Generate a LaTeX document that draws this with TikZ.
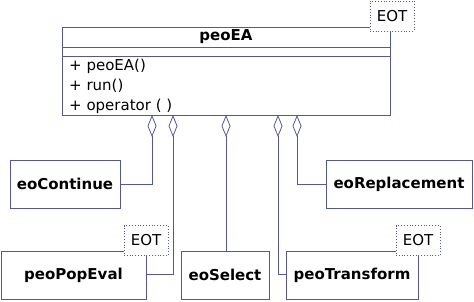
\documentclass[tikz,border=0pt]{standalone}
\usepackage{fontspec}
\setmainfont{DejaVu Sans}
\usetikzlibrary{
    arrows.meta,
    positioning
}
\definecolor{umlblue}{RGB}{85,85,160}
\tikzset{
    classbox/.style={draw=umlblue, fill=white, line width=0.8pt, inner sep=0pt},
    classname/.style={font=\fontsize{15}{18}\selectfont\bfseries},
    member/.style={font=\fontsize{15}{18}\selectfont, anchor=west, inner sep=0pt},
    eotbox/.style={draw=umlblue, fill=white, dotted, line width=0.8pt,
        minimum width=44pt, minimum height=30pt, inner sep=0pt,
        font=\fontsize{15}{18}\selectfont},
    divider/.style={umlblue, line width=0.8pt},
    aggregation/.style={umlblue, line width=0.8pt,
        -{Diamond[open, length=22pt, width=9pt]}}
}

\begin{document}
\begin{tikzpicture}[x=1pt, y=-1pt]
    \useasboundingbox (0,0) rectangle (474,302);
    \node[classbox, minimum width=328pt, minimum height=88pt] (peoea) at (226,71) {};
    \node[classname] (peoeatitle) at (226,37) {peoEA};
    \draw[divider] (peoea.west |- 0,47) -- (peoea.east |- 0,47);
    \draw[divider] (peoea.west |- 0,56) -- (peoea.east |- 0,56);
    \node[member] (m1) at (69,66) {+ peoEA()};
    \node[member] (m2) at (69,86) {+ run()};
    \node[member] (m3) at (69,106) {+ operator ( )};
    \node[eotbox] (eotea) at (392,16) {EOT};
    \node[classbox, classname, minimum width=110pt, minimum height=48pt] (cont) at (65,184) {eoContinue};
    \node[classbox, classname, minimum width=146pt, minimum height=48pt] (repl) at (399,184) {eoReplacement};
    \node[classbox, classname, minimum width=145pt, minimum height=48pt] (popeval) at (73.5,275) {peoPopEval};
    \node[classbox, classname, minimum width=88pt, minimum height=48pt] (select) at (225,275) {eoSelect};
    \node[classbox, classname, minimum width=132pt, minimum height=48pt] (transform) at (352,275) {peoTransform};
    \node[eotbox] (eotpop) at (146,240.5) {EOT};
    \node[eotbox] (eottrans) at (418,240.5) {EOT};
    \coordinate (d1) at (152,115);
    \coordinate (d2) at (173,115);
    \coordinate (d3) at (226,115);
    \coordinate (d4) at (278,115);
    \coordinate (d5) at (297,115);
    \draw[aggregation] (cont.east) -| (d1);
    \draw[aggregation] (popeval.east |- 0,274) -| (d2);
    \draw[aggregation] (select.north -| d3) -- (d3);
    \draw[aggregation] (transform.west |- 0,274) -| (d4);
    \draw[aggregation] (repl.west) -| (d5);
\end{tikzpicture}
\end{document}
